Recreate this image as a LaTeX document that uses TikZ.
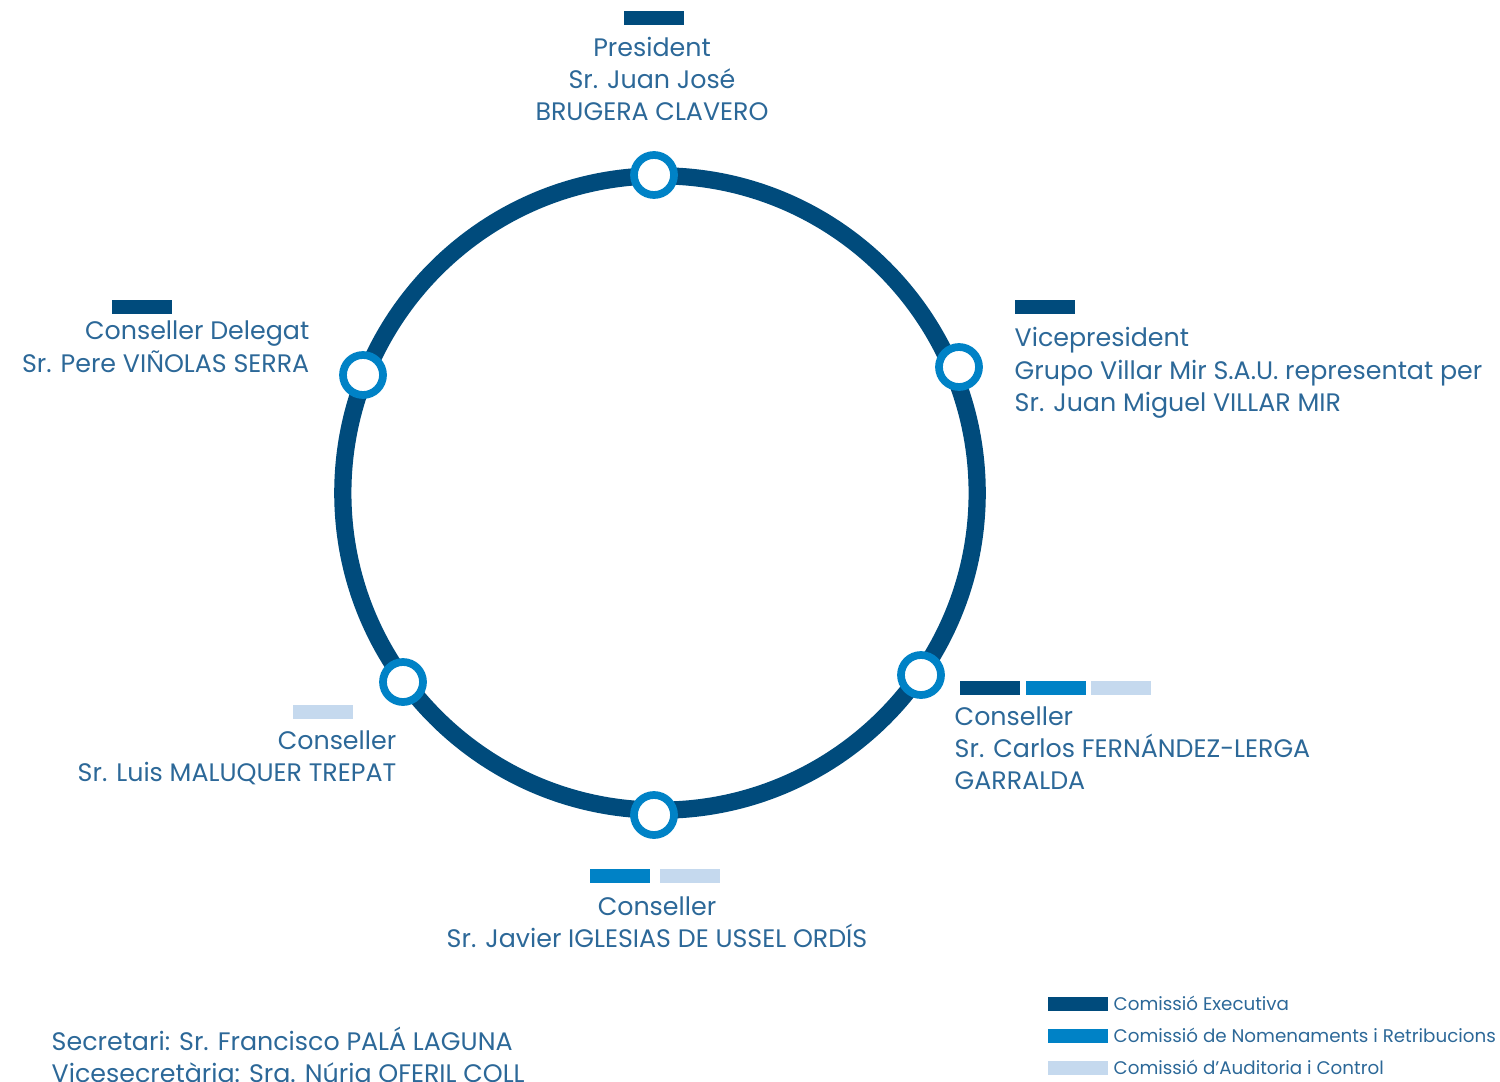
\documentclass[tikz,border=0pt]{standalone}
\usepackage{fontspec}
\setmainfont{Poppins}
\usetikzlibrary{positioning}

\definecolor{fosc}{HTML}{004B7C}
\definecolor{mig}{HTML}{0082C6}
\definecolor{clar}{HTML}{C5D9EE}
\definecolor{lletra}{HTML}{2C6898}

\begin{document}
\begin{tikzpicture}[x=0.01cm,y=-0.01cm,
  barra/.style={fill=#1, inner sep=0, minimum width=0.6cm, minimum height=0.14cm, anchor=north west},
  punt/.style={circle, draw=mig, line width=2.2pt, fill=white, minimum size=0.4cm, inner sep=0},
  nom/.style={text=lletra, inner sep=0, font=\fontsize{7.2}{9.1}\selectfont},
  llegenda/.style={text=lletra, inner sep=0, font=\fontsize{5.2}{9.1}\selectfont, anchor=base west}]
\useasboundingbox (0,0) rectangle (1500,1082);

% consell
\draw[fosc, line width=4.9pt] (660,493) circle (3.17cm);

\node[punt] (pres) at (654,175) {};
\node[punt] (vice) at (959,367) {};
\node[punt] (deleg) at (363,375) {};
\node[punt] (malu) at (403,682) {};
\node[punt] (igle) at (654,815) {};
\node[punt] (ferna) at (921,675) {};

% carrecs (base = darrera linia)
\node[barra=fosc] (bpres) at (623,10) {};
\node[nom, anchor=base, align=center] (tpres) at (652,121) {President\\Sr. Juan José\\BRUGERA CLAVERO};

\node[barra=fosc] (bvice) at (1014,299) {};
\node[nom, anchor=base west, align=left] (tvice) at (1014,411) {Vicepresident\\Grupo Villar Mir S.A.U. representat per\\Sr. Juan Miguel VILLAR MIR};

\node[barra=fosc] (bdeleg) at (111,299) {};
\node[nom, anchor=base east, align=right] (tdeleg) at (310,372) {Conseller Delegat\\Sr. Pere VIÑOLAS SERRA};

\node[barra=clar] (bmalu) at (292,704) {};
\node[nom, anchor=base east, align=right] (tmalu) at (397,781) {Conseller\\Sr. Luis MALUQUER TREPAT};

\node[barra=mig] (bigle1) at (589,868) {};
\node[barra=clar] (bigle2) at (659,868) {};
\node[nom, anchor=base, align=center] (tigle) at (657,947) {Conseller\\Sr. Javier IGLESIAS DE USSEL ORDÍS};

\node[barra=fosc] (bferna1) at (959,680) {};
\node[barra=mig] (bferna2) at (1025,680) {};
\node[barra=clar] (bferna3) at (1090,680) {};
\node[nom, anchor=base west, align=left] (tferna) at (954,789) {Conseller\\Sr. Carlos FERNÁNDEZ-LERGA\\GARRALDA};

\node[nom, anchor=base west, align=left] (tsecr) at (51,1082) {Secretari: Sr. Francisco PALÁ LAGUNA\\Vicesecretària: Sra. Núria OFERIL COLL};

% llegenda
\node[barra=fosc] (lfosc) at (1047,996) {};
\node[barra=mig] (lmig) at (1047,1028) {};
\node[barra=clar] (lclar) at (1047,1060) {};
\node[llegenda] (tfosc) at (1113,1010) {Comissió Executiva};
\node[llegenda] (tmig) at (1113,1042) {Comissió de Nomenaments i Retribucions};
\node[llegenda] (tclar) at (1113,1074) {Comissió d’Auditoria i Control};

\end{tikzpicture}
\end{document}
